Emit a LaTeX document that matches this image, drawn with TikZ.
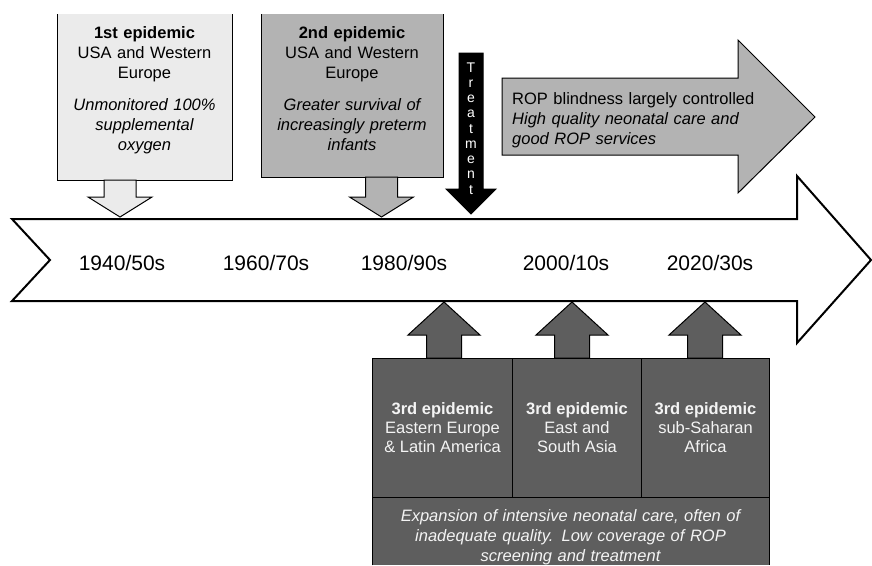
\documentclass[tikz,border=0pt]{standalone}
\usepackage{fontspec}
\setmainfont{Liberation Sans}
\usepackage{xcolor}
\usepackage{tikz}
\definecolor{epiA}{HTML}{EBEBEB}
\definecolor{epiB}{HTML}{B3B3B3}
\definecolor{epiC}{HTML}{5E5E5E}
\definecolor{epiText}{HTML}{F4F4F4}
\tikzset{%
    every epidemic/.style={
            rectangle,
            inner sep=0pt
        },
    epidemic text/.style={
            align=center,
            inner sep=0pt,
            font=\fontsize{16.5}{20}\selectfont
        },
    third box/.style={
            rectangle,
            draw=black,
            line width=1pt,
            fill=epiC,
            text=epiText,
            align=center,
            inner sep=0pt,
            minimum height=139pt,
            font=\fontsize{16.5}{19}\selectfont
        },
    block arrow/.style={
            draw=black,
            line width=1pt,
            line join=miter
        },
    time line/.style={
            draw=black,
            fill=white,
            line width=2pt,
            line join=miter
        },
    decade/.style={
            font=\fontsize{21}{24}\selectfont
        },
}

\begin{document}
\begin{tikzpicture}[x=1pt, y=-1pt]
        \useasboundingbox (0,0) rectangle (872,565);

        \node [every epidemic, fill=epiA, minimum width=175pt, minimum height=166pt, anchor=north west] (epi-1) at (57,14) {};
        \node [every epidemic, fill=epiB, minimum width=182pt, minimum height=163pt, anchor=north west] (epi-2) at (261,14) {};

        \foreach \i in {1,2}
        \draw [line width=1pt] (epi-\i.north west) |- (epi-\i.south east) -- (epi-\i.north east);

        \node [epidemic text, text width=175pt, anchor=base] (epi-1-text) at (144.5,38)
        {\textbf{1st epidemic}\\USA and Western\\Europe\\[12pt]\itshape Unmonitored 100\%\\supplemental\\oxygen};
        \node [epidemic text, text width=182pt, anchor=base] (epi-2-text) at (352,38)
        {\textbf{2nd epidemic}\\USA and Western\\Europe\\[12pt]\itshape Greater survival of\\increasingly preterm\\infants};

        \foreach \x/\t/\c in {120/180/epiA, 381.5/177/epiB}
        \draw [block arrow, fill=\c] (\x,217) -- (\x-32,197) -- (\x-16,197) -- (\x-16,\t)
        -- (\x+16,\t) -- (\x+16,197) -- (\x+32,197) -- cycle;

        \draw [block arrow, fill=black] (471,214) -- (446,189) -- (459,189) -- (459,53)
        -- (483,53) -- (483,189) -- (496,189) -- cycle;
        \node [text=white, align=center, inner sep=0pt, text width=20pt, anchor=base,
        font=\fontsize{14}{15.25}\selectfont] (treatment) at (471,72)
        {T\\r\\e\\a\\t\\m\\e\\n\\t};

        \draw [block arrow, fill=epiB] (502,78) -- (738,78) -- (738,40) -- (815,117)
        -- (738,193) -- (738,155) -- (502,155) -- cycle;
        \node [epidemic text, align=left, text width=260pt, anchor=base west] (controlled) at (512,104)
        {ROP blindness largely controlled\\\itshape High quality neonatal care and\\good ROP services};

        \draw [time line] (12,219) -- (797,219) -- (797,176) -- (871,260) -- (797,343)
        -- (797,301) -- (12,301) -- (50,260) -- cycle;

        \foreach \x/\l [count=\i] in {122/{1940/50s}, 266/{1960/70s}, 404/{1980/90s}, 566/{2000/10s}, 710/{2020/30s}}
        \node [decade] (decade-\i) at (\x,263) {\l};

        \foreach \x in {444,572,705}
        \draw [block arrow, fill=epiC] (\x,302) -- (\x+36,335) -- (\x+17.5,335) -- (\x+17.5,358)
        -- (\x-17.5,358) -- (\x-17.5,335) -- (\x-36,335) -- cycle;

        \foreach \x/\w/\l [count=\i] in {372/140/{Eastern Europe\\\& Latin America}, 512/129/{East and\\South Asia}, 641/128/{sub-Saharan\\Africa}}
        \node [third box, minimum width=\w pt, anchor=north west] (third-\i) at (\x,358)
        {\textbf{3rd epidemic}\\\l};

        \node [every epidemic, fill=epiC, minimum width=397pt, minimum height=68pt, anchor=north west] (screening) at (372,497) {};
        \draw [line width=1pt] (screening.south west) |- (screening.north east) -- (screening.south east);
        \node [epidemic text, text width=397pt, text=epiText, anchor=base] (screening-text) at (570.5,521)
        {\itshape Expansion of intensive neonatal care, often of\\inadequate quality. Low coverage of ROP\\screening and treatment};

    \end{tikzpicture}
\end{document}
